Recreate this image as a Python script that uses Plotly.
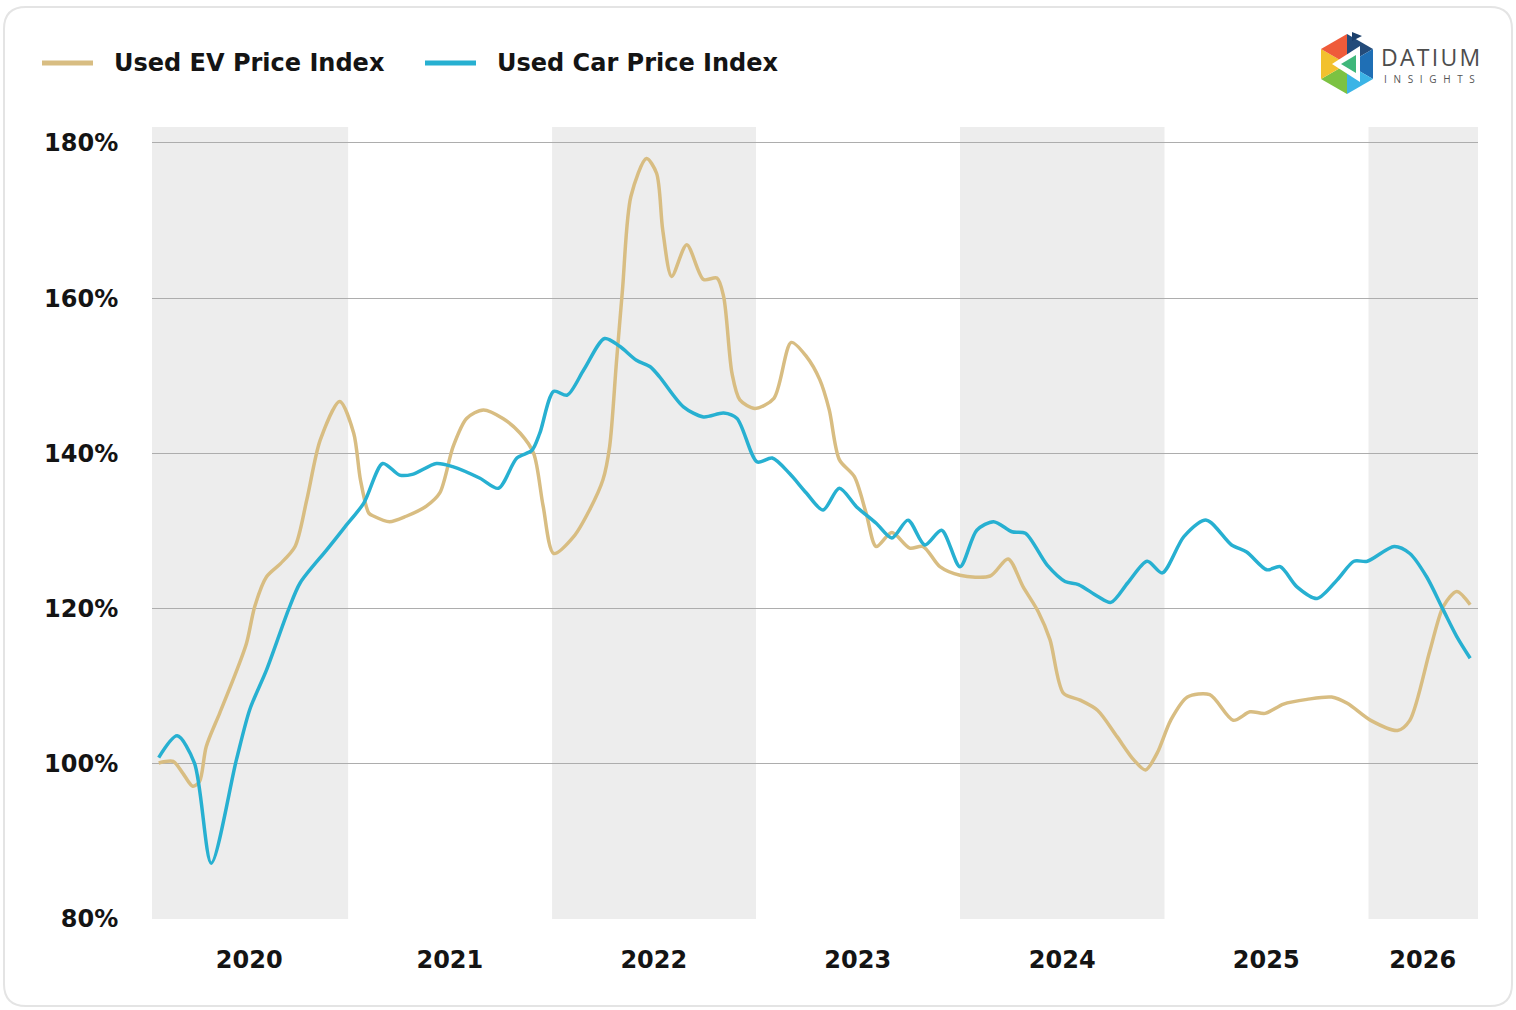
import plotly.graph_objects as go

# ---------------- data ----------------
ev_dates = [
    "2020-01-28", "2020-02-23", "2020-03-11", "2020-03-29", "2020-04-10", "2020-04-22",
    "2020-05-16", "2020-06-09", "2020-07-03", "2020-07-18", "2020-08-08", "2020-09-02",
    "2020-09-28", "2020-10-19", "2020-11-12", "2020-12-17", "2021-01-11", "2021-01-23",
    "2021-02-07", "2021-02-16", "2021-03-16", "2021-04-15", "2021-05-21", "2021-06-14",
    "2021-07-08", "2021-08-01", "2021-08-31", "2021-10-05", "2021-11-05", "2021-11-29",
    "2021-12-16", "2022-01-04", "2022-02-09", "2022-03-09", "2022-04-02", "2022-04-14",
    "2022-04-26", "2022-05-07", "2022-05-22", "2022-06-19", "2022-07-07", "2022-07-18",
    "2022-08-03", "2022-08-30", "2022-09-29", "2022-10-23", "2022-11-04", "2022-11-19",
    "2022-12-03", "2022-12-30", "2023-02-02", "2023-03-05", "2023-04-01", "2023-04-25",
    "2023-05-12", "2023-05-30", "2023-06-26", "2023-07-17", "2023-08-04", "2023-09-01",
    "2023-10-03", "2023-10-27", "2023-11-26", "2024-01-01", "2024-02-24", "2024-03-27",
    "2024-04-23", "2024-05-20", "2024-06-10", "2024-07-04", "2024-08-03", "2024-09-03",
    "2024-10-08", "2024-11-07", "2024-11-28", "2024-12-19", "2025-01-12", "2025-02-11",
    "2025-03-23", "2025-05-04", "2025-06-03", "2025-06-30", "2025-08-02", "2025-09-13",
    "2025-10-27", "2025-11-24", "2026-01-05", "2026-02-22", "2026-03-16", "2026-04-21",
    "2026-05-15", "2026-06-08", "2026-07-02",
]
ev_values = [
    100.1, 100.3, 98.8, 97.1, 97.7, 102.2,
    106.5, 110.8, 115.5, 120.3, 124.1, 125.8,
    128.0, 134.0, 141.7, 146.7, 142.6, 136.6,
    132.3, 131.9, 131.2, 131.9, 133.2, 134.9,
    140.9, 144.5, 145.6, 144.5, 142.6, 140.0,
    133.2, 127.1, 129.3, 132.7, 136.6, 140.9,
    151.6, 161.1, 173.1, 178.0, 176.1, 168.8,
    162.8, 166.9, 162.4, 162.6, 160.2, 150.3,
    146.9, 145.8, 147.1, 154.3, 152.5, 149.5,
    145.6, 139.2, 137.0, 132.3, 128.0, 129.8,
    127.8, 128.0, 125.4, 124.3, 124.2, 126.4,
    122.8, 119.6, 116.0, 109.1, 108.2, 106.9,
    103.5, 100.5, 99.2, 101.4, 105.6, 108.6,
    108.9, 105.6, 106.7, 106.5, 107.7, 108.3,
    108.6, 107.8, 105.6, 104.3, 105.6, 114.6,
    120.3, 122.2, 120.5,
]

car_dates = [
    "2020-01-28", "2020-03-01", "2020-04-01", "2020-05-01", "2020-06-15", "2020-07-09",
    "2020-08-08", "2020-09-16", "2020-10-07", "2020-11-24", "2020-12-26", "2021-01-29",
    "2021-03-04", "2021-04-03", "2021-04-26", "2021-06-08", "2021-07-07", "2021-08-25",
    "2021-09-27", "2021-10-30", "2021-11-26", "2021-12-10", "2022-01-04", "2022-01-28",
    "2022-02-27", "2022-04-05", "2022-05-02", "2022-06-01", "2022-06-25", "2022-07-12",
    "2022-08-24", "2022-09-29", "2022-11-04", "2022-11-28", "2023-01-03", "2023-01-30",
    "2023-03-02", "2023-04-01", "2023-05-01", "2023-05-30", "2023-06-30", "2023-08-04",
    "2023-09-01", "2023-09-30", "2023-10-30", "2023-11-29", "2024-01-01", "2024-01-31",
    "2024-03-01", "2024-04-03", "2024-04-27", "2024-06-05", "2024-07-07", "2024-07-31",
    "2024-09-03", "2024-09-27", "2024-10-27", "2024-12-01", "2024-12-28", "2025-02-05",
    "2025-03-17", "2025-05-01", "2025-05-28", "2025-07-03", "2025-07-27", "2025-08-26",
    "2025-10-01", "2025-11-06", "2025-12-06", "2025-12-30", "2026-02-16", "2026-03-16",
    "2026-04-15", "2026-05-15", "2026-06-08", "2026-07-02",
]
car_values = [
    100.8, 103.6, 100.1, 87.2, 100.5, 107.0,
    112.1, 119.8, 123.3, 127.6, 130.5, 133.6,
    138.7, 137.2, 137.3, 138.7, 138.3, 136.8,
    135.5, 139.4, 140.4, 142.6, 148.0, 147.5,
    150.8, 154.8, 153.8, 152.0, 151.2, 149.9,
    146.0, 144.7, 145.2, 144.5, 138.9, 139.4,
    137.4, 134.9, 132.7, 135.5, 133.1, 131.0,
    129.1, 131.4, 128.2, 130.1, 125.4, 130.1,
    131.2, 129.9, 129.7, 125.6, 123.5, 123.1,
    121.6, 120.8, 123.3, 126.1, 124.6, 129.3,
    131.4, 128.2, 127.3, 125.0, 125.4, 122.8,
    121.3, 123.7, 126.1, 126.1, 128.0, 127.1,
    124.1, 119.8, 116.4, 113.6,
]

year_labels = ["2020", "2021", "2022", "2023", "2024", "2025", "2026"]
year_label_pos = ["2020-07-08", "2021-07-02", "2022-07-02", "2023-07-02",
                  "2024-07-02", "2025-07-02", "2026-04-08"]
shaded_years = [("2020-01-01", "2021-01-01"), ("2022-01-01", "2023-01-01"),
                ("2024-01-01", "2025-01-01"), ("2026-01-01", "2026-07-16")]
y_ticks = [80, 100, 120, 140, 160, 180]
y_tick_text = ["80%", "100%", "120%", "140%", "160%", "180%"]

series_names = ["Used EV Price Index", "Used Car Price Index"]
EV_COLOR = "#d8bd82"
CAR_COLOR = "#27b0d1"

# ---------------- layout geometry ----------------
W, H = 1516, 1010
ML, MR, MT, MB = 152, 38, 127, 91
PW, PH = W - ML - MR, H - MT - MB


def px(x):
    return (x - ML) / PW


def py(y):
    return (H - MB - y) / PH


def P(x, y):
    return f"{px(x):.5f},{py(y):.5f}"


TICK_FONT = "DejaVu Sans, Inter, Arial, sans-serif"
LEG_FONT = "DejaVu Sans, Inter, Arial, sans-serif"
LOGO_FONT = "Open Sans, Arial, sans-serif"

fig = go.Figure()
fig.add_trace(go.Scatter(
    x=ev_dates, y=ev_values, mode="lines", name=series_names[0],
    line=dict(color=EV_COLOR, width=3.5, shape="spline", smoothing=0.8),
    showlegend=False,
))
fig.add_trace(go.Scatter(
    x=car_dates, y=car_values, mode="lines", name=series_names[1],
    line=dict(color=CAR_COLOR, width=3.5, shape="spline", smoothing=0.8),
    showlegend=False,
))

shapes = []
for a, b in shaded_years:
    shapes.append(dict(type="rect", xref="x", yref="paper", x0=a, x1=b, y0=0, y1=1,
                       fillcolor="#ededed", line=dict(width=0), layer="below"))

# card border (rounded)
cx0, cx1, cy0, cy1, r = 4, 1512, 7, 1006, 22
card = (f"M {P(cx0 + r, cy0)} L {P(cx1 - r, cy0)} Q {P(cx1, cy0)} {P(cx1, cy0 + r)} "
        f"L {P(cx1, cy1 - r)} Q {P(cx1, cy1)} {P(cx1 - r, cy1)} "
        f"L {P(cx0 + r, cy1)} Q {P(cx0, cy1)} {P(cx0, cy1 - r)} "
        f"L {P(cx0, cy0 + r)} Q {P(cx0, cy0)} {P(cx0 + r, cy0)} Z")
shapes.append(dict(type="path", xref="paper", yref="paper", path=card,
                   line=dict(color="#e4e4e4", width=2), fillcolor="rgba(0,0,0,0)", layer="below"))

# manual legend line samples
legend_y = 63
shapes.append(dict(type="line", xref="paper", yref="paper", x0=px(42), x1=px(93),
                   y0=py(legend_y), y1=py(legend_y), line=dict(color=EV_COLOR, width=5)))
shapes.append(dict(type="line", xref="paper", yref="paper", x0=px(425), x1=px(476),
                   y0=py(legend_y), y1=py(legend_y), line=dict(color=CAR_COLOR, width=5)))

# logo hexagon
hc = (1347, 64)
hv = [(1347, 34), (1373, 49), (1373, 79), (1347, 94), (1321, 79), (1321, 49)]
tri_cols = ["#234b7a", "#1f6fb5", "#3bb4e6", "#7cc242", "#f2c12e", "#ef5b3a"]
for i in range(6):
    a = hv[i]
    b = hv[(i + 1) % 6]
    shapes.append(dict(type="path", xref="paper", yref="paper",
                       path=f"M {P(*hc)} L {P(*a)} L {P(*b)} Z",
                       fillcolor=tri_cols[i], line=dict(width=0)))
shapes.append(dict(type="path", xref="paper", yref="paper",
                   path=f"M {P(1360, 46)} L {P(1360, 82)} L {P(1332, 64)} Z",
                   fillcolor="white", line=dict(width=0)))
shapes.append(dict(type="path", xref="paper", yref="paper",
                   path=f"M {P(1356, 55)} L {P(1356, 73)} L {P(1341, 64)} Z",
                   fillcolor="#3fb77a", line=dict(width=0)))
shapes.append(dict(type="path", xref="paper", yref="paper",
                   path=f"M {P(1352, 32)} L {P(1362, 36)} L {P(1352, 41)} Z",
                   fillcolor="#1b3f6b", line=dict(width=0)))

hs = "&#8202;"
sp = "&#8194;&#8201;"
annotations = [
    dict(xref="paper", yref="paper", x=px(112), y=py(legend_y), xanchor="left", yanchor="middle",
         text="<b>" + series_names[0] + "</b>", showarrow=False,
         font=dict(family=LEG_FONT, size=24, color="#141414")),
    dict(xref="paper", yref="paper", x=px(495), y=py(legend_y), xanchor="left", yanchor="middle",
         text="<b>" + series_names[1] + "</b>", showarrow=False,
         font=dict(family=LEG_FONT, size=24, color="#141414")),
    dict(xref="paper", yref="paper", x=px(1380), y=py(57), xanchor="left", yanchor="middle",
         text=hs.join("DATIUM"), showarrow=False, borderpad=0,
         font=dict(family=LOGO_FONT, size=23, color="#4d4d4d")),
    dict(xref="paper", yref="paper", x=px(1383), y=py(79), xanchor="left", yanchor="middle",
         text=sp.join("INSIGHTS"), showarrow=False, borderpad=0,
         font=dict(family=LOGO_FONT, size=10, color="#555555")),
]

fig.update_layout(
    width=W, height=H,
    margin=dict(l=ML, r=MR, t=MT, b=MB, pad=0),
    paper_bgcolor="white", plot_bgcolor="white",
    shapes=shapes, annotations=annotations,
    showlegend=False,
    xaxis=dict(
        type="date", range=["2020-01-16", "2026-07-16"],
        tickmode="array", tickvals=year_label_pos, ticktext=year_labels,
        showgrid=False, zeroline=False, showline=False,
        ticks="outside", ticklen=19, tickcolor="rgba(0,0,0,0)",
        tickfont=dict(family=TICK_FONT, size=24, color="#141414", weight=700),
    ),
    yaxis=dict(
        range=[80, 182.06],
        tickmode="array", tickvals=y_ticks, ticktext=y_tick_text,
        showgrid=True, gridcolor="#adadad", gridwidth=1,
        zeroline=False, showline=False,
        ticks="outside", ticklen=28, tickcolor="rgba(0,0,0,0)",
        tickfont=dict(family=TICK_FONT, size=24, color="#141414", weight=700),
    ),
)

fig.write_html("out.html")
